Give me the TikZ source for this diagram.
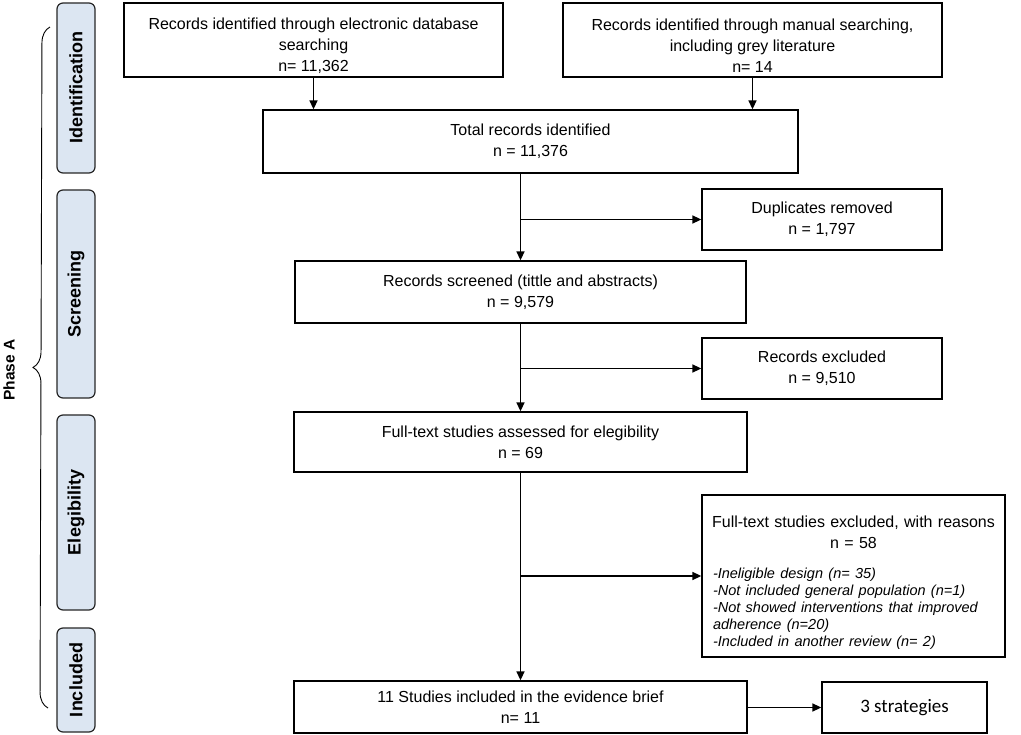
\documentclass[tikz,border=0pt]{standalone}
\usepackage{fontspec}
\setmainfont{Liberation Sans}
\newfontfamily\strategyfont{Carlito}
\usetikzlibrary{arrows.meta,decorations.pathreplacing}
\definecolor{phaseblue}{HTML}{DCE6F2}
\tikzset{
	stagebox/.style={draw, line width=1.3pt, align=center, inner sep=0pt, font=\fontsize{16}{21}\selectfont},
	phasebox/.style={draw=black!85, line width=1.2pt, rounded corners=6pt, fill=phaseblue, rotate=90, minimum height=38, inner sep=0pt, font=\bfseries\fontsize{18}{21}\selectfont},
	arr/.style={line width=1.5pt, -{Triangle[length=9pt,width=8pt]}}
}
\begin{document}
\begin{tikzpicture}[x=1pt,y=-1pt]
	\useasboundingbox (0,0) rectangle (1021,735);
	\node[phasebox, minimum width=170] at (76,88) (ident) {Identification};
	\node[phasebox, minimum width=208] at (76,294) (screen) {Screening};
	\node[phasebox, minimum width=195] at (76,512.5) (elig) {Elegibility};
	\node[phasebox, minimum width=104] at (76,680) (incl) {Included};
	\node[rotate=90, inner sep=0pt, font=\bfseries\fontsize{15.5}{18}\selectfont] at (9,370) (phase) {Phase A};
	\draw[line width=0.9pt, decorate, decoration={brace, amplitude=16pt}] (48,708) -- (50,27);
	\node[stagebox, minimum width=379, minimum height=74] at (313.5,40) (db) {\rule{0pt}{24pt}Records identified through electronic database\\searching\\n= 11,362};
	\node[stagebox, minimum width=379, minimum height=74] at (752.5,40) (manual) {\rule{0pt}{24pt}Records identified through manual searching,\\including grey literature\\n= 14};
	\node[stagebox, minimum width=535, minimum height=63] at (530.5,141.5) (total) {Total records identified\\n = 11,376};
	\node[stagebox, minimum width=240, minimum height=61] at (822,219.5) (dup) {Duplicates removed\\n = 1,797};
	\node[stagebox, minimum width=451, minimum height=62] at (520.5,292) (screened) {Records screened (tittle and abstracts)\\n = 9,579};
	\node[stagebox, minimum width=240, minimum height=61] at (822,368.5) (excl) {Records excluded\\n = 9,510};
	\node[stagebox, minimum width=453, minimum height=60] at (520.5,442) (fulltext) {Full-text studies assessed for elegibility\\n = 69};
	\node[stagebox, minimum width=303, minimum height=162, text width=281, inner xsep=11pt, align=left] at (853.5,576) (ftexcl) {{\centering\noindent\makebox[\linewidth][c]{\rule{0pt}{25pt}Full-text studies excluded, with reasons}\par n = 58\par}\vspace{13pt}{\itshape\fontsize{14.5}{17}\selectfont -Ineligible design (n= 35)\\-Not included general population (n=1)\\-Not showed interventions that improved\\adherence (n=20)\\-Included in another review (n= 2)\par}};
	\node[stagebox, minimum width=453, minimum height=52] at (520.5,707) (studies) {11 Studies included in the evidence brief\\n= 11};
	\node[stagebox, minimum width=165, minimum height=51, font=\strategyfont\fontsize{19}{22}\selectfont] at (904.5,707.5) (strat) {3 strategies};
	\path[arr] (db.south) edge (db.south |- total.north)
	(manual.south) edge (manual.south |- total.north)
	(total.south -| screened.north) edge (screened.north)
	(screened.north |- dup.west) edge (dup.west)
	(screened.south) edge (fulltext.north)
	(fulltext.north |- excl.west) edge (excl.west)
	(fulltext.south) edge (studies.north)
	(studies.north |- ftexcl.west) edge (ftexcl.west)
	(studies.east |- strat.west) edge (strat.west);
\end{tikzpicture}
\end{document}
